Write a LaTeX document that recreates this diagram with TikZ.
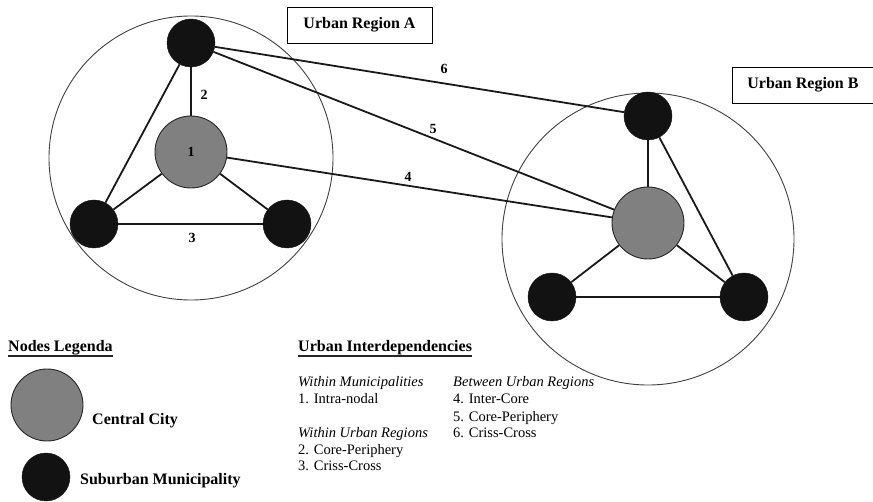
\documentclass[tikz,border=0pt]{standalone}
\usepackage{fontspec}
\setmainfont{Liberation Serif}
\definecolor{coregray}{HTML}{808080}
\definecolor{subblack}{HTML}{121212}
\begin{document}
\begin{tikzpicture}[x=1pt,y=-1pt,
  region/.style={circle, draw=black!75, line width=0.9pt, inner sep=0},
  sub/.style={circle, fill=subblack, draw=subblack, minimum size=48pt, inner sep=0},
  core/.style={circle, fill=coregray, draw=black!85, line width=0.9pt, minimum size=72pt, inner sep=0, font=\fontsize{14}{16}\selectfont\bfseries},
  link/.style={line width=1.8pt, black!90},
  lab/.style={font=\fontsize{14}{16}\selectfont\bfseries, inner sep=1pt},
  title/.style={draw=black, line width=0.9pt, font=\fontsize{16}{19}\selectfont\bfseries, minimum width=145pt, minimum height=36pt},
  head/.style={font=\fontsize{16}{19}\selectfont\bfseries, anchor=base west, inner sep=0},
  uline/.style={line width=1.5pt, black!85},
  item/.style={font=\fontsize{14.5}{17}\selectfont, anchor=base west, inner sep=0},
  legtext/.style={font=\fontsize{16}{19}\selectfont\bfseries, anchor=west, inner sep=0}]
\useasboundingbox (0,0) rectangle (873,502);

% region circles
\node[region, minimum size=284pt] (RA) at (191,158) {};
\node[region, minimum size=292pt] (RB) at (648,239) {};

% region titles
\node[title] (TA) at (359.5,25) {Urban Region A};
\node[title, minimum width=142pt] (TB) at (803,85) {Urban Region B};

% region A nodes
\node[core] (CA) at (191,152) {1};
\node[sub] (A1) at (191,43) {};
\node[sub] (A2) at (94,224) {};
\node[sub] (A3) at (287,224) {};

% region B nodes
\node[core] (CB) at (648,223) {};
\node[sub] (B1) at (648,116) {};
\node[sub] (B2) at (552,297) {};
\node[sub] (B3) at (744,297) {};

% links within A
\draw[link] (A1) -- (CA);
\draw[link] (CA) -- (A2);
\draw[link] (CA) -- (A3);
\draw[link] (A1) -- (A2);
\draw[link] (A2) -- (A3);

% links within B
\draw[link] (B1) -- (CB);
\draw[link] (CB) -- (B2);
\draw[link] (CB) -- (B3);
\draw[link] (B1) -- (B3);
\draw[link] (B2) -- (B3);

% links between regions
\draw[link] (A1) -- (B1);
\draw[link] (A1) -- (CB);
\draw[link] (CA) -- (CB);

% link labels
\node[lab] (L2) at (204,95) {2};
\node[lab] (L3) at (192,238) {3};
\node[lab] (L4) at (408,177) {4};
\node[lab] (L5) at (433,129) {5};
\node[lab] (L6) at (444,69) {6};

% nodes legend
\node[head] (NL) at (8,352) {Nodes Legenda};
\draw[uline] ([yshift=-4pt]NL.base west) -- ([yshift=-4pt]NL.base east);
\node[core] (LC) at (47,405) {};
\node[legtext] (LCt) at (92,421) {Central City};
\node[sub] (LS) at (46,477) {};
\node[legtext] (LSt) at (80,481) {Suburban Municipality};

% urban interdependencies
\node[head] (UI) at (298,352) {Urban Interdependencies};
\draw[uline] ([yshift=-4pt]UI.base west) -- ([yshift=-4pt]UI.base east);
\node[item] (W1) at (298,387) {\textit{Within Municipalities}};
\node[item] (I1) at (298,404) {1. Intra-nodal};
\node[item] (W2) at (298,438) {\textit{Within Urban Regions}};
\node[item] (I2) at (298,454) {2. Core-Periphery};
\node[item] (I3) at (298,471) {3. Criss-Cross};
\node[item] (W3) at (453,387) {\textit{Between Urban Regions}};
\node[item] (I4) at (453,404) {4. Inter-Core};
\node[item] (I5) at (453,421) {5. Core-Periphery};
\node[item] (I6) at (453,438) {6. Criss-Cross};
\end{tikzpicture}
\end{document}
